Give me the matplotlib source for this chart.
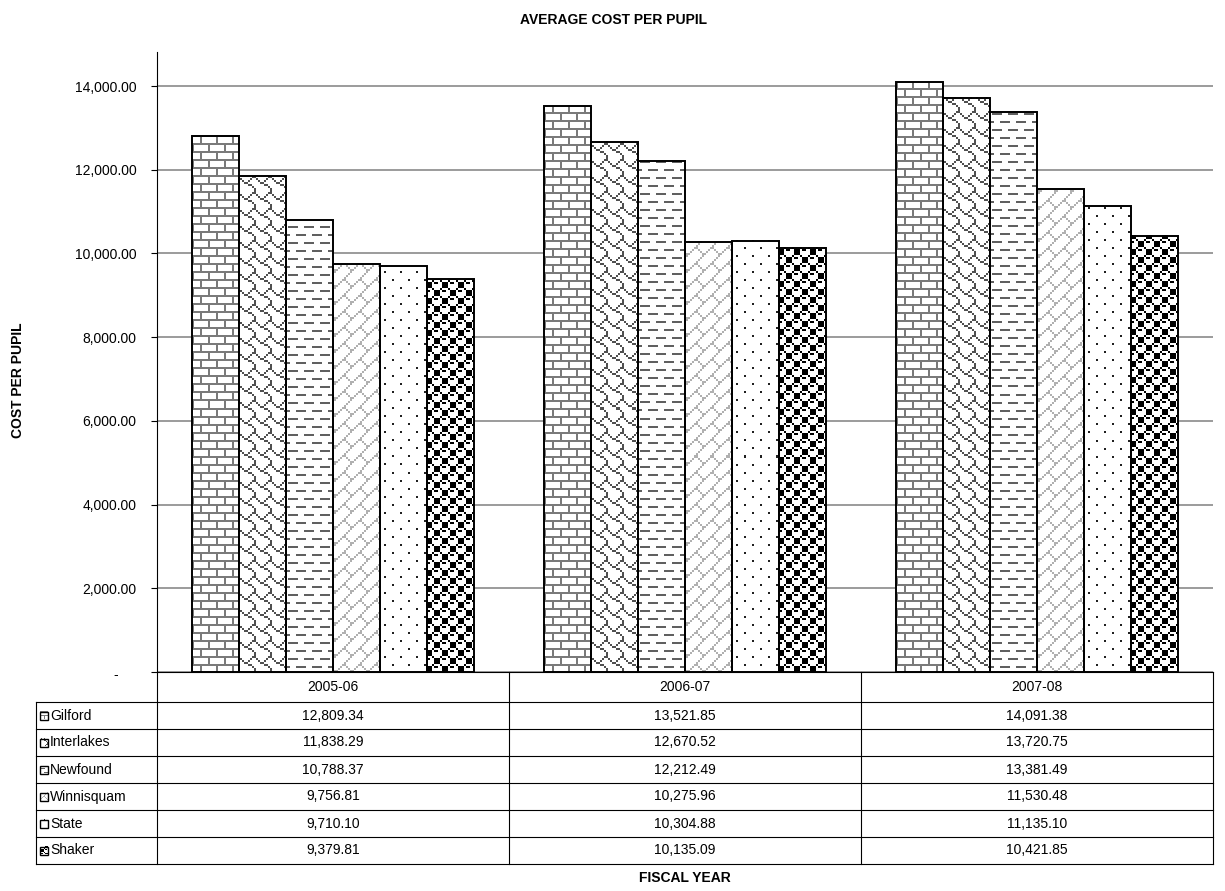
import numpy as np
import matplotlib
matplotlib.use("Agg")
import matplotlib.pyplot as plt
from matplotlib.colors import to_rgb
from matplotlib.ticker import FuncFormatter, FixedLocator

plt.rcParams['font.family'] = ['Liberation Sans', 'DejaVu Sans']

# ---- data -------------------------------------------------------------
years = ["2005-06", "2006-07", "2007-08"]
districts = ["Gilford", "Interlakes", "Newfound", "Winnisquam", "State", "Shaker"]
gilford = [12809.34, 13521.85, 14091.38]
interlakes = [11838.29, 12670.52, 13720.75]
newfound = [10788.37, 12212.49, 13381.49]
winnisquam = [9756.81, 10275.96, 11530.48]
state = [9710.10, 10304.88, 11135.10]
shaker = [9379.81, 10135.09, 10421.85]
y_ticks = [0, 2000, 4000, 6000, 8000, 10000, 12000, 14000]

series = [gilford, interlakes, newfound, winnisquam, state, shaker]

# ---- fill patterns (8x8 bitmaps, MSB = leftmost pixel) ----------------
def bitmap(rows):
    return np.array([[(r >> (7 - c)) & 1 for c in range(8)] for r in rows], dtype=bool)

styles = [
    (bitmap([0xff, 0x80, 0x80, 0x80, 0xff, 0x08, 0x08, 0x08]), "#7a7a7a"),  # horizontal brick
    (bitmap([0x03, 0x84, 0x48, 0x30, 0x0c, 0x02, 0x01, 0x01]), "#505050"),  # shingle
    (bitmap([0x00, 0xf8, 0x00, 0x00, 0x00, 0x8f, 0x00, 0x00]), "#606060"),  # dashed horizontal
    (bitmap([0x01, 0x02, 0x04, 0x08, 0x18, 0x24, 0x42, 0x81]), "#b0b0b0"),  # diagonal brick
    (bitmap([0x80, 0x00, 0x00, 0x00, 0x08, 0x00, 0x00, 0x00]), "#202020"),  # sparse dots
    (~bitmap([0x77, 0x89, 0x8f, 0x8f, 0x77, 0x98, 0xf8, 0xf8]), "#000000"),  # sphere
]

W, H = 1225, 891
fig = plt.figure(figsize=(W / 100, H / 100), dpi=100)
fig.patch.set_facecolor("white")

# plot area in pixels
PL, PR, PT, PB = 157, 1213, 52, 672
ax = fig.add_axes([PL / W, 1 - PB / H, (PR - PL) / W, (PB - PT) / H])
ymax = 14000 * (PB - PT) / (PB - 86)
ax.set_xlim(-0.5, len(years) - 0.5)
ax.set_ylim(0, ymax)

for s in ("top", "right", "bottom"):
    ax.spines[s].set_visible(False)
ax.spines["left"].set_color("black")
ax.spines["left"].set_linewidth(0.8)
ax.yaxis.set_major_locator(FixedLocator(y_ticks))
ax.yaxis.set_major_formatter(FuncFormatter(lambda v, p: "" if v == 0 else f"{v:,.2f}"))
ax.tick_params(axis="y", direction="out", length=4.3, width=0.8, pad=10.5,
               labelsize=10, colors="black")
ax.set_xticks([])
ax.yaxis.grid(True, color="#808080", linewidth=1.1, zorder=0)
ax.set_axisbelow(True)


def fill_texture(target, x0, x1, y0, y1, mask, color, scale=2, z=3):
    (px0, py0), (px1, py1) = target.transData.transform([(x0, y0), (x1, y1)])
    left, right = min(px0, px1), max(px0, px1)
    bot, top = min(py0, py1), max(py0, py1)
    w = max(int(round(right - left)), 1)
    h = max(int(round(top - bot)), 1)
    cols = ((np.arange(w) + int(round(left))) // scale) % 8
    rows = ((np.arange(h) + int(round(H - top))) // scale) % 8
    m = mask[np.ix_(rows, cols)]
    img = np.ones((h, w, 3))
    img[m] = np.array(to_rgb(color))
    target.imshow(img, extent=(x0, x1, y0, y1), origin="upper",
                  interpolation="nearest", aspect="auto", zorder=z)


n = len(series)
bw = 1 / (n + 1.5)
xc = np.arange(len(years))
for k, vals in enumerate(series):
    xs = xc + (k - (n - 1) / 2) * bw
    bars = ax.bar(xs, vals, bw, color="white", edgecolor="none", zorder=2)
    mask, col = styles[k]
    for r in bars:
        fill_texture(ax, r.get_x(), r.get_x() + r.get_width(), 0, r.get_height(), mask, col)
    ax.bar(xs, vals, bw, facecolor="none", edgecolor="black", linewidth=1.4, zorder=4)

ax.set_xlim(-0.5, len(years) - 0.5)
ax.set_ylim(0, ymax)

# ---- overlay in pixel coordinates for table and titles ------------------
ov = fig.add_axes([0, 0, 1, 1])
ov.set_xlim(0, W)
ov.set_ylim(H, 0)
ov.patch.set_alpha(0)
ov.axis("off")

# zero label of the value axis
ov.text(116, PB + 3, "-", ha="center", va="center", fontsize=10)

# data table geometry
col_edges = [ax.transData.transform((i - 0.5, 0))[0] for i in range(len(years) + 1)]
TL = 36
row_h = 27
header_bot = PB + 30
row_edges = [header_bot + i * row_h for i in range(len(districts) + 1)]
table_bot = row_edges[-1]
lk = dict(color="black", linewidth=0.8)

ov.plot([col_edges[0], col_edges[-1]], [PB, PB], **lk)
for yy in row_edges:
    ov.plot([TL, col_edges[-1]], [yy, yy], **lk)
ov.plot([TL, TL], [header_bot, table_bot], **lk)
for xx in col_edges:
    ov.plot([xx, xx], [PB, table_bot], **lk)

for i, yr in enumerate(years):
    ov.text((col_edges[i] + col_edges[i + 1]) / 2, (PB + header_bot) / 2, yr,
            ha="center", va="center", fontsize=10)

for k, name in enumerate(districts):
    yc = (row_edges[k] + row_edges[k + 1]) / 2
    ks = 8
    mask, col = styles[k]
    fill_texture(ov, 40, 40 + ks, yc + ks / 2, yc - ks / 2, mask, col, scale=1, z=3)
    ov.add_patch(plt.Rectangle((40, yc - ks / 2), ks, ks, facecolor="none",
                               edgecolor="black", linewidth=1.0, zorder=4))
    ov.text(50, yc, name, ha="left", va="center", fontsize=10)
    for i in range(len(years)):
        ov.text((col_edges[i] + col_edges[i + 1]) / 2, yc, f"{series[k][i]:,.2f}",
                ha="center", va="center", fontsize=10)

ov.set_xlim(0, W)
ov.set_ylim(H, 0)

# titles
ov.text(613, 20, "AVERAGE COST PER PUPIL", ha="center", va="center",
        fontsize=10, fontweight="bold")
ov.text(18, 380, "COST PER PUPIL", ha="center", va="center", rotation=90,
        fontsize=10, fontweight="bold")
ov.text((col_edges[0] + col_edges[-1]) / 2, table_bot + 14, "FISCAL YEAR",
        ha="center", va="center", fontsize=10, fontweight="bold")

fig.savefig("out.png", dpi=100)
